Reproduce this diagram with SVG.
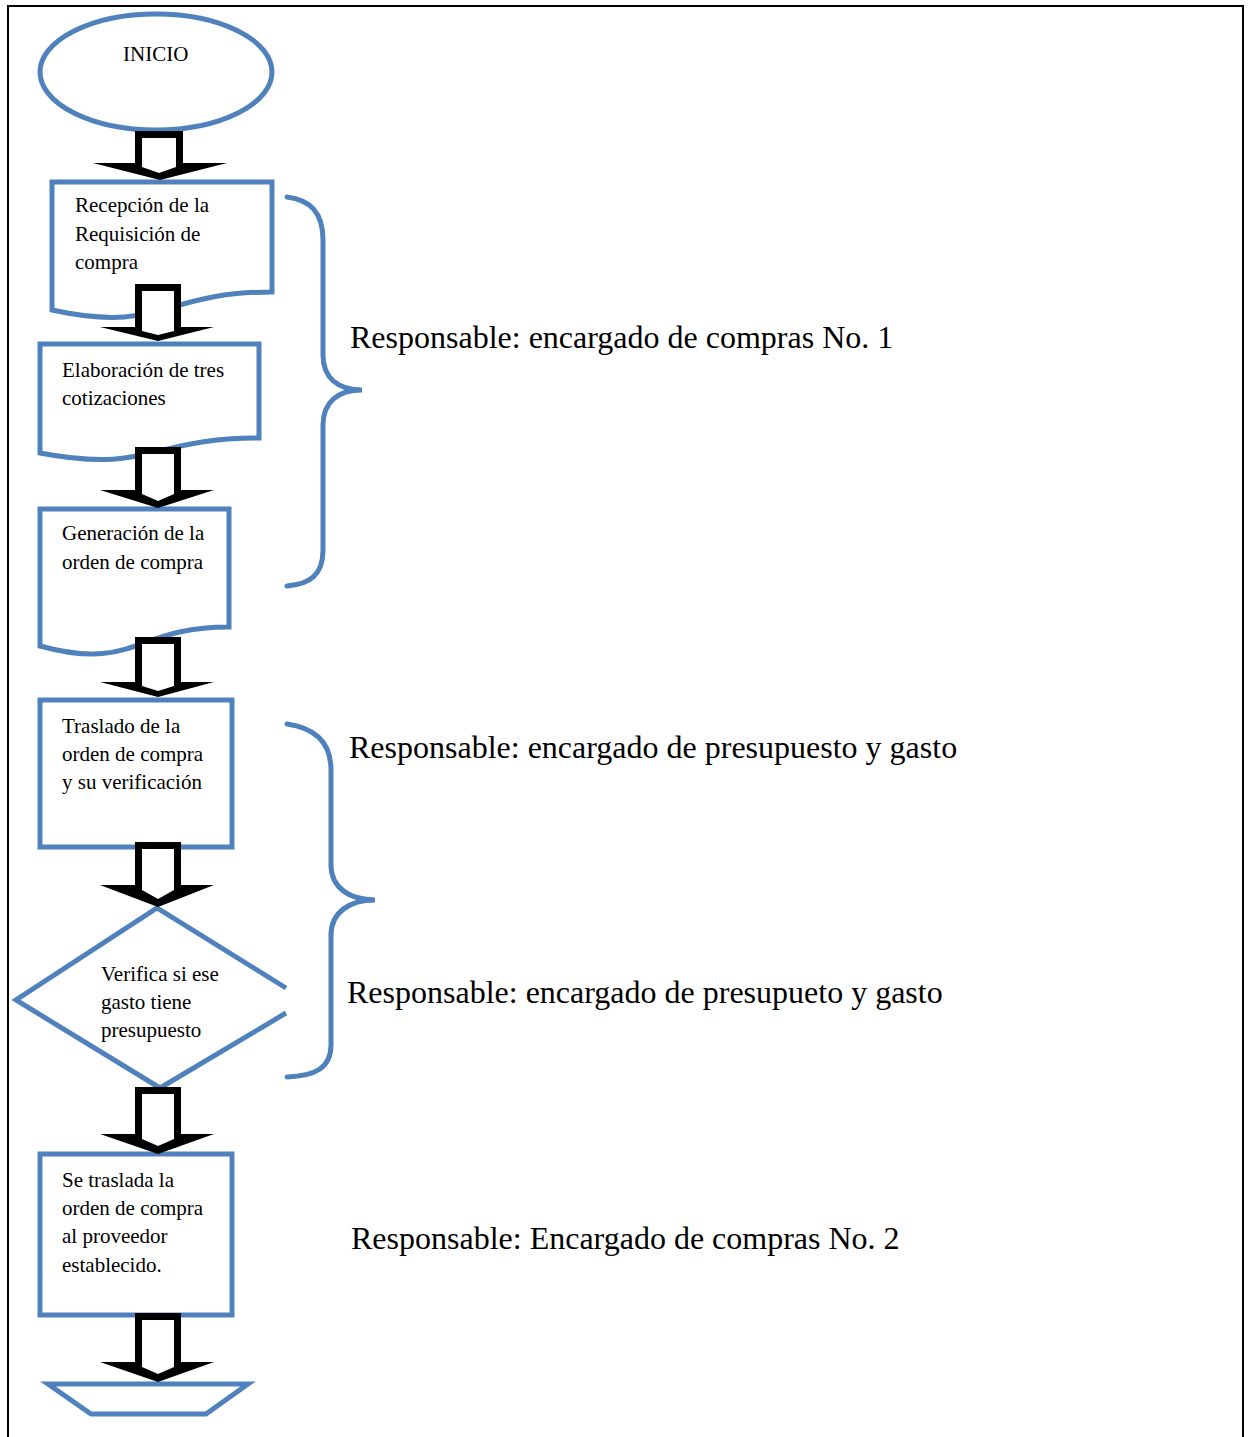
<svg xmlns="http://www.w3.org/2000/svg" width="1248" height="1437" viewBox="0 0 1248 1437">
<style>
.sh{fill:#fff;stroke:#4F81BD;stroke-width:5}
.br{fill:none;stroke:#4F81BD;stroke-width:5;stroke-linecap:round}
.ab{fill:#000}
.ai{fill:#fff}
.t{font-family:"Liberation Serif","Times New Roman",serif;font-size:21px;fill:#000}
.r{font-family:"Liberation Serif","Times New Roman",serif;font-size:32px;fill:#000}
</style>
<rect width="1248" height="1437" fill="#fff"/>
<path d="M8,1437 V6 H1243 V1437" fill="none" stroke="#000" stroke-width="2"/>
<g id="inicio"><ellipse class="sh" cx="156" cy="72" rx="116" ry="58"/><text class="t" x="123" y="61">INICIO</text></g>
<g id="recepcion"><path class="sh" d="M52,182 H272 V292 C162,292 162,334 52,310 Z"/>
<text class="t" x="75" y="212">Recepción de la</text><text class="t" x="75" y="241">Requisición de</text><text class="t" x="75" y="269">compra</text></g>
<g id="elaboracion"><path class="sh" d="M40,344 H259 V438 C150,438 150,474 40,453 Z"/>
<text class="t" x="62" y="377">Elaboración de tres</text><text class="t" x="62" y="405">cotizaciones</text></g>
<g id="generacion"><path class="sh" d="M40,509 H229 V627 C135,627 135,672 40,646 Z"/>
<text class="t" x="62" y="540">Generación de la</text><text class="t" x="62" y="569">orden de compra</text></g>
<g id="traslado"><rect class="sh" x="40" y="700" width="192" height="147"/>
<text class="t" x="62" y="733">Traslado de la</text><text class="t" x="62" y="761">orden de compra</text><text class="t" x="62" y="789">y su verificación</text></g>
<g id="verifica"><path class="sh" d="M286,988 L157,908 L16,1000 L160,1088 L286,1013"/>
<text class="t" x="101" y="981">Verifica si ese</text><text class="t" x="101" y="1009">gasto tiene</text><text class="t" x="101" y="1037">presupuesto</text></g>
<g id="proveedor"><rect class="sh" x="40" y="1154" width="192" height="161"/>
<text class="t" x="62" y="1187">Se traslada la</text><text class="t" x="62" y="1215">orden de compra</text><text class="t" x="62" y="1243">al proveedor</text><text class="t" x="62" y="1272">establecido.</text></g>
<g id="fin"><path class="sh" d="M48,1384 H248 L206,1414 H91 Z"/></g>
<g id="connectors">
<g><rect class="ab" x="135" y="131" width="48" height="34"/><polygon class="ab" points="93,163 227,163 160,180"/><polygon class="ai" points="142,138 176,138 176,167 159,173 142,167"/></g>
<g><rect class="ab" x="135" y="284" width="46" height="45"/><polygon class="ab" points="100,327 214,327 158,341"/><polygon class="ai" points="142,291 174,291 174,331 158,335 142,331"/></g>
<g><rect class="ab" x="135" y="447" width="46" height="45"/><polygon class="ab" points="100,490 214,490 158,508"/><polygon class="ai" points="142,454 174,454 174,494 158,501 142,494"/></g>
<g><rect class="ab" x="135" y="637" width="46" height="47"/><polygon class="ab" points="100,682 214,682 158,697"/><polygon class="ai" points="142,644 174,644 174,686 158,691 142,686"/></g>
<g><rect class="ab" x="135" y="842" width="46" height="45"/><polygon class="ab" points="100,885 214,885 158,907"/><polygon class="ai" points="142,849 174,849 174,890 158,899 142,890"/></g>
<g><rect class="ab" x="135" y="1087" width="46" height="49"/><polygon class="ab" points="100,1134 214,1134 158,1154"/><polygon class="ai" points="142,1094 174,1094 174,1139 158,1146 142,1139"/></g>
<g><rect class="ab" x="135" y="1313" width="46" height="51"/><polygon class="ab" points="100,1362 214,1362 158,1382"/><polygon class="ai" points="142,1320 174,1320 174,1367 158,1374 142,1367"/></g>
</g>
<g id="brace1"><path class="br" d="M287,197 C310,200 323,212 323,240 V355 C323,378 338,390 362,390 C338,390 323,402 323,425 V550 C323,575 310,584 287,586"/></g>
<g id="brace2"><path class="br" d="M287,724 C315,728 331,742 331,770 V865 C331,888 350,900 375,900 C350,900 331,912 331,935 V1045 C331,1068 315,1076 287,1077"/></g>
<g id="labels">
<text class="r" x="350" y="348">Responsable: encargado de compras No. 1</text>
<text class="r" x="349" y="758">Responsable: encargado de presupuesto y gasto</text>
<text class="r" x="347" y="1003">Responsable: encargado de presupueto y gasto</text>
<text class="r" x="351" y="1249">Responsable: Encargado de compras No. 2</text>
</g>
</svg>
